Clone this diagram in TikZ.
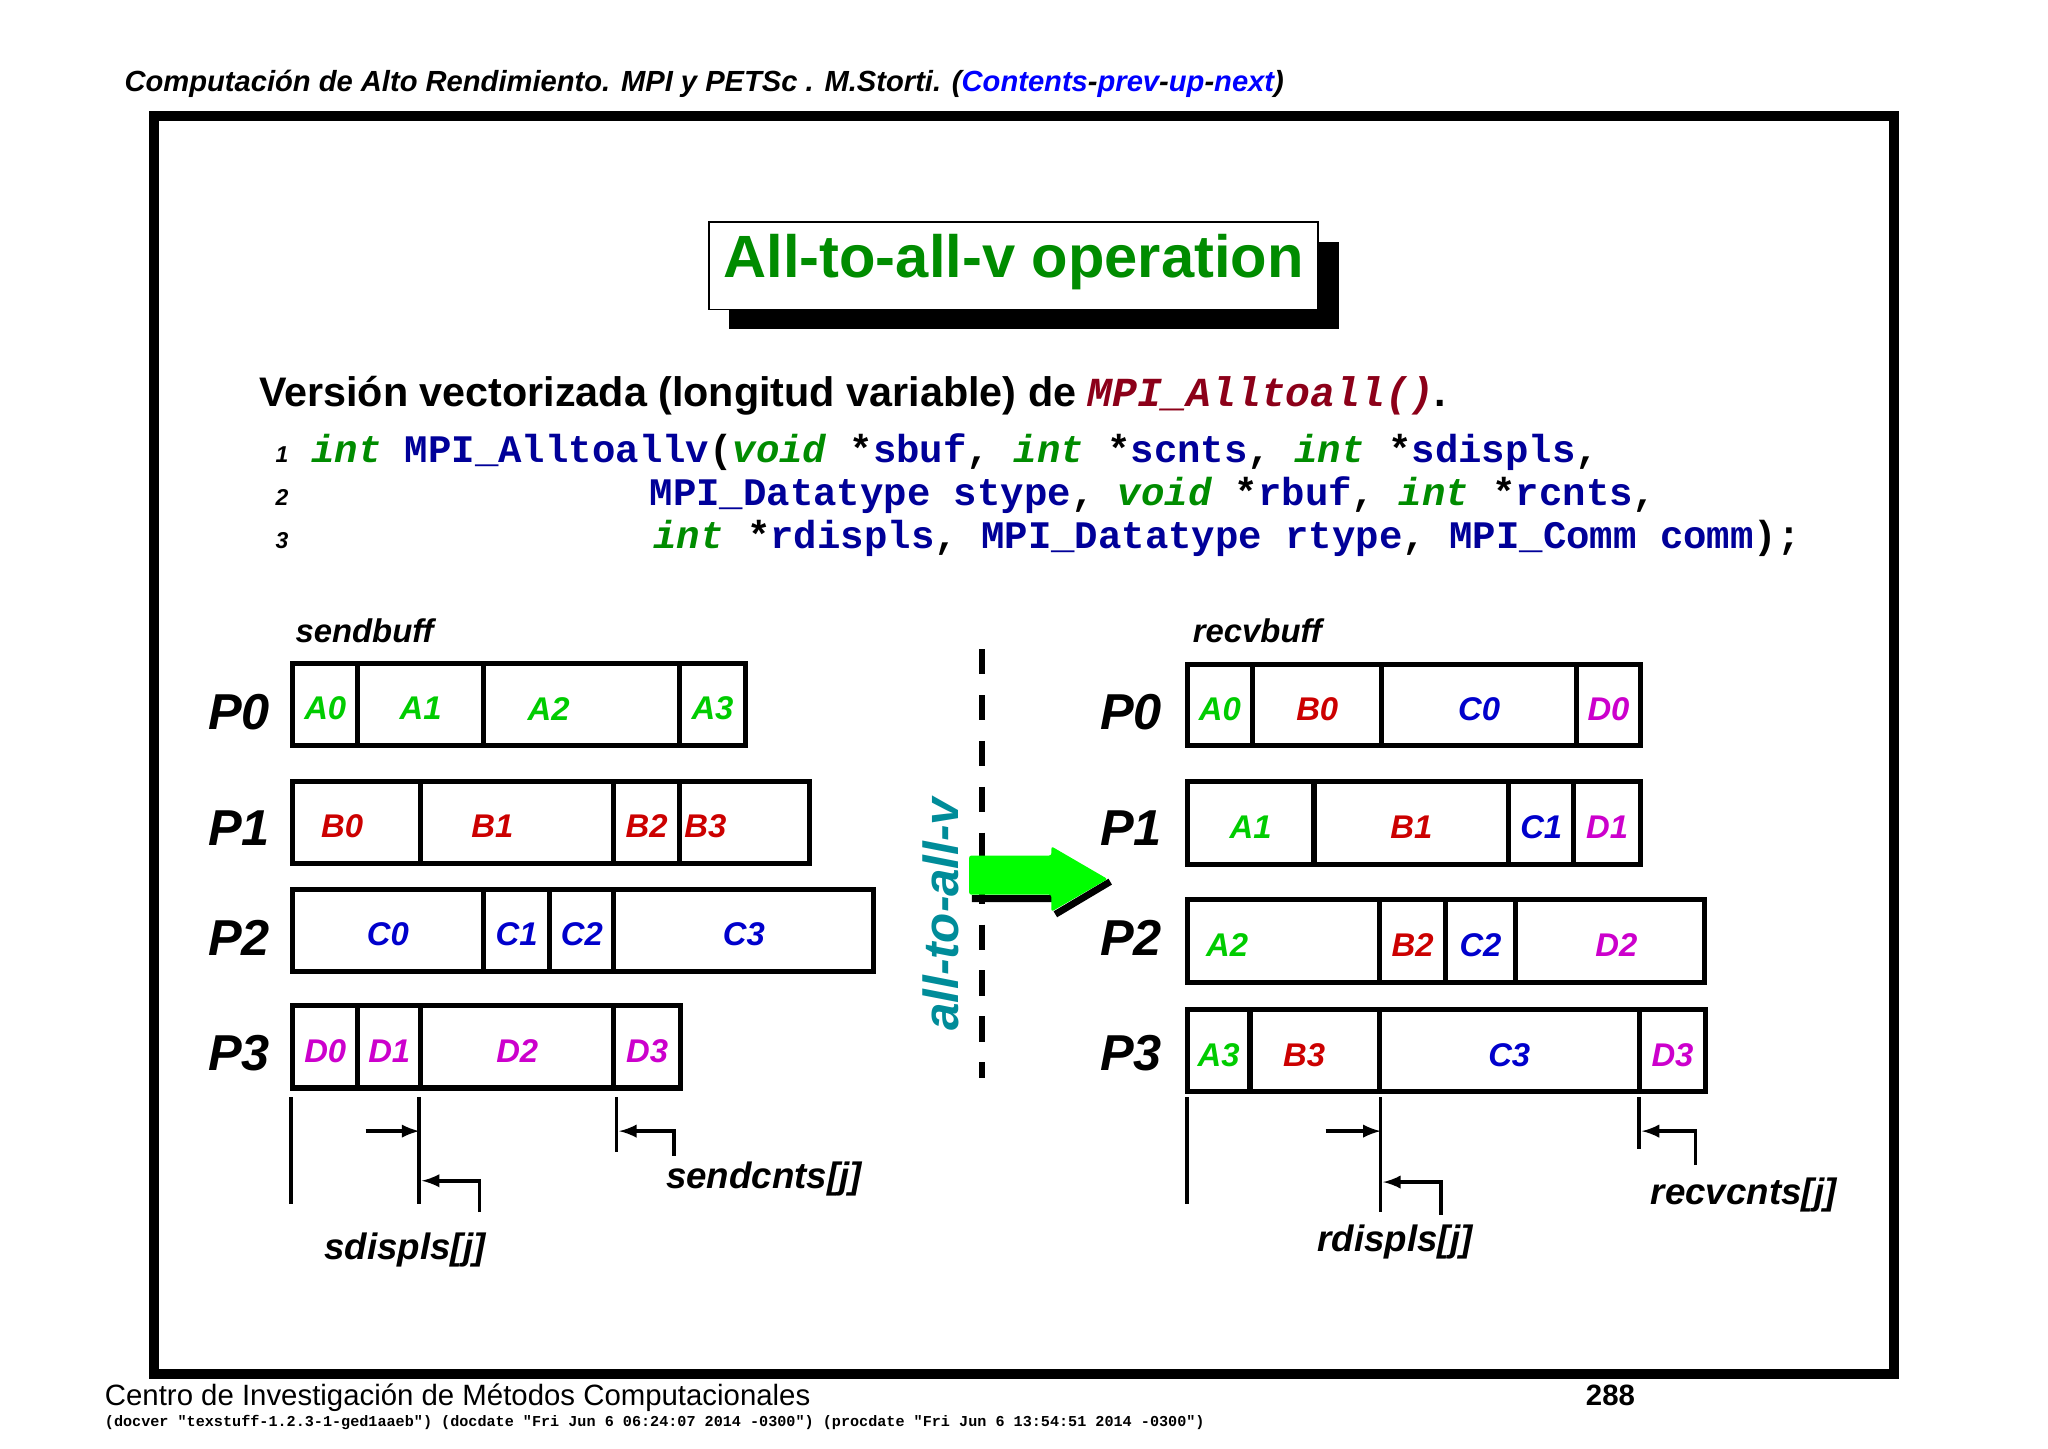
\documentclass[tikz,border=0pt]{standalone}
\usepackage{fontspec}
\setmainfont{Liberation Sans}
\setmonofont{Liberation Mono}
\begin{document}
\begin{tikzpicture}[x=0.02cm,y=-0.02cm]
\definecolor{kw}{rgb}{0,0.55,0}
\definecolor{id}{rgb}{0,0,0.6}
\definecolor{ca}{rgb}{0,0.8,0}
\definecolor{cb}{rgb}{0.8,0,0}
\definecolor{cc}{rgb}{0,0,0.8}
\definecolor{cd}{rgb}{0.8,0,0.8}
\definecolor{teal2}{rgb}{0,0.55,0.6}
\definecolor{dred}{rgb}{0.55,0,0.1}
\tikzset{cell/.style={draw=black,line width=2.2pt},
 clab/.style={font=\fontsize{14.3}{16}\selectfont\bfseries\itshape,anchor=center},
 plab/.style={font=\fontsize{22}{24}\selectfont\bfseries\itshape},
 blab/.style={font=\fontsize{16}{18}\selectfont\bfseries\itshape},
 mark2/.style={line width=1.6pt},
 code/.style={anchor=base west,inner sep=0,font=\fontsize{17}{18}\selectfont\ttfamily\bfseries}}
\useasboundingbox (0,0) rectangle (1568,1109);
\fill[white] (0,0) rectangle (1568,1109);
\node[anchor=base west,inner sep=0,font=\fontsize{12.7}{14}\selectfont\bfseries\itshape] (hdr) at (95,70) {Computación de Alto Rendimiento. MPI y PETSc . M.Storti. (\textcolor{blue}{Contents}-\textcolor{blue}{prev}-\textcolor{blue}{up}-\textcolor{blue}{next})};
\draw[line width=4.5pt] (118,89) rectangle (1450,1052);
% title
\fill (558,185) rectangle (1025,252);
\fill[white] (543,170) rectangle (1009,237);
\draw[line width=0.8pt] (543,170) rectangle (1009,237);
\node[text=kw,font=\fontsize{26}{30}\selectfont\bfseries] (title) at (776,201) {All-to-all-v operation};
% subtitle
\node[anchor=base west,inner sep=0,font=\fontsize{18}{20}\selectfont\bfseries] (sub) at (198,311) {Versión vectorizada (longitud variable) de \textcolor{dred}{\ttfamily\itshape MPI\_Alltoall()}.};
% code
\foreach \n/\yy in {1/354,2/387,3/420}{\node[anchor=base,inner sep=0,font=\fontsize{10}{12}\selectfont\itshape\bfseries] (ln\n) at (216,\yy) {\n};}
\node[code] (c1) at (238,354) {\textcolor{kw}{\itshape int} \textcolor{id}{MPI\_Alltoallv}(\textcolor{kw}{\itshape void} *\textcolor{id}{sbuf}, \textcolor{kw}{\itshape int} *\textcolor{id}{scnts}, \textcolor{kw}{\itshape int} *\textcolor{id}{sdispls},};
\node[code] (c2) at (497,387) {\textcolor{id}{MPI\_Datatype stype}, \textcolor{kw}{\itshape void} *\textcolor{id}{rbuf}, \textcolor{kw}{\itshape int} *\textcolor{id}{rcnts},};
\node[code] (c3) at (500,420) {\textcolor{kw}{\itshape int} *\textcolor{id}{rdispls}, \textcolor{id}{MPI\_Datatype rtype}, \textcolor{id}{MPI\_Comm comm});};
% buffers
\node[anchor=base west,font=\fontsize{14.3}{16}\selectfont\bfseries\itshape,inner sep=0] (sb) at (226,492) {sendbuff};
\node[anchor=base west,font=\fontsize{14.3}{16}\selectfont\bfseries\itshape,inner sep=0] (rb) at (913,492) {recvbuff};
\newcommand{\brow}[8]{% y1 y2 x0 x1 x2 x3 x4 labels
 \draw[cell] (#3,#1) rectangle (#7,#2);
 \draw[cell] (#4,#1)--(#4,#2) (#5,#1)--(#5,#2) (#6,#1)--(#6,#2);
 \foreach \a/\b/\t/\c [count=\i] in {#8}{\node[clab,text=\c] at ({(\a+\b)/2},{(#1+#2)/2+3}) {\t};}}
\brow{508}{571}{224}{274}{370}{520}{571}{224/274/A0/ca,274/370/A1/ca,370/470/A2/ca,520/571/A3/ca}
\brow{598}{661}{224}{322}{470}{520}{620}{224/300/B0/cb,322/432/B1/cb,470/520/B2/cb,520/560/B3/cb}
\brow{681}{744}{224}{370}{421}{470}{669}{224/370/C0/cc,370/421/C1/cc,421/470/C2/cc,470/669/C3/cc}
\brow{770}{833}{224}{274}{322}{470}{521}{224/274/D0/cd,274/322/D1/cd,322/470/D2/cd,470/521/D3/cd}
\brow{509}{571}{909}{959}{1058}{1207}{1256}{909/959/A0/ca,959/1058/B0/cb,1058/1207/C0/cc,1207/1256/D0/cd}
\brow{598}{662}{909}{1006}{1155}{1205}{1256}{909/1006/A1/ca,1006/1155/B1/cb,1155/1205/C1/cc,1205/1256/D1/cd}
\brow{689}{752}{909}{1056}{1107}{1160}{1305}{909/970/A2/ca,1056/1107/B2/cb,1107/1160/C2/cc,1160/1315/D2/cd}
\brow{773}{836}{909}{957}{1056}{1255}{1306}{909/957/A3/ca,957/1040/B3/cb,1056/1255/C3/cc,1255/1306/D3/cd}
\foreach \t/\yy in {0/545,1/634,2/718,3/806}{\node[plab] (lp\t) at (183,\yy) {P\t}; \node[plab] (rp\t) at (866,\yy) {P\t};}
% middle
\draw[line width=2.5pt,dash pattern=on 11pt off 9pt] (752,497) -- (752,825);
\node[rotate=90,text=teal2,font=\fontsize{21.5}{24}\selectfont\bfseries\itshape] (atav) at (720,700) {all-to-all-v};
\draw[line width=3pt] (744,688) -- (808,688) (808,700) -- (850,675);
\fill[green!100!black,rounded corners=1pt] (742,655) -- (805,655) -- (805,648) -- (848,673) -- (805,698) -- (805,685) -- (742,685) -- cycle;
% left markers
\coordinate (l1) at (223,840); \coordinate (l2) at (321,840); \coordinate (l3) at (472,840);
\draw[mark2] (l1) -- ++(0,82) (l2) -- ++(0,82) (l3) -- ++(0,42);
\draw[mark2,-latex] (280,866) -- (l2 |- 0,866);
\draw[mark2,-latex] (367,928) -- (367,904) -- (323,904);
\draw[mark2,-latex] (516,885) -- (516,866) -- (474,866);
\node[blab] (sdl) at (310,957) {sdispls[j]};
\node[blab] (scl) at (585,903) {sendcnts[j]};
% right markers
\coordinate (r1) at (909,840); \coordinate (r2) at (1057,840); \coordinate (r3) at (1255,840);
\draw[mark2] (r1) -- ++(0,82) (r2) -- ++(0,88) (r3) -- ++(0,40);
\draw[mark2,-latex] (1015,866) -- (1057,866);
\draw[mark2,-latex] (1103,930) -- (1103,905) -- (1059,905);
\draw[mark2,-latex] (1298,892) -- (1298,866) -- (1257,866);
\node[blab] (rdl) at (1068,951) {rdispls[j]};
\node[blab] (rcl) at (1335,915) {recvcnts[j]};
% footer
\node[anchor=base west,inner sep=0,font=\fontsize{12.8}{14}\selectfont] (f1) at (80,1076) {Centro de Investigación de Métodos Computacionales};
\node[anchor=base,inner sep=0,font=\fontsize{12.8}{14}\selectfont\bfseries] (f2) at (1233,1076) {288};
\node[anchor=base west,inner sep=0,font=\fontsize{6.6}{8}\selectfont\ttfamily\bfseries] (f3) at (80,1092) {(docver "texstuff-1.2.3-1-ged1aaeb") (docdate "Fri Jun 6 06:24:07 2014 -0300") (procdate "Fri Jun 6 13:54:51 2014 -0300")};
\end{tikzpicture}
\end{document}
